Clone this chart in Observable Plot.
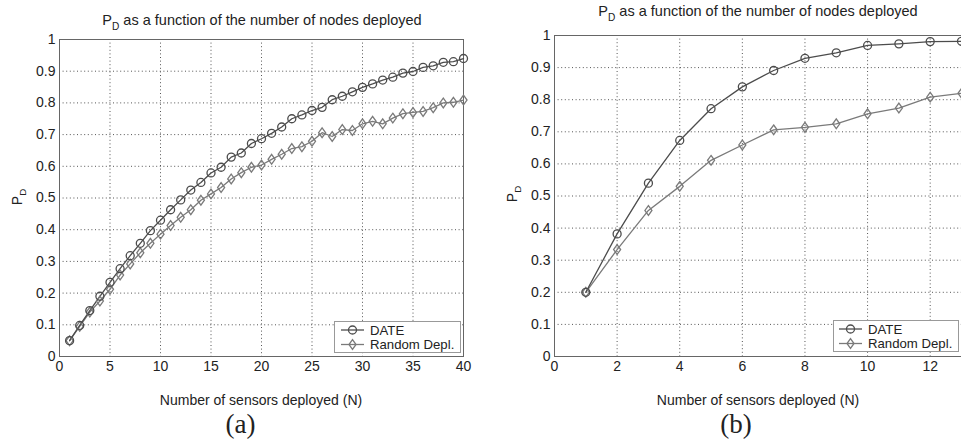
<!DOCTYPE html>
<html><head><meta charset="utf-8">
<script src="https://cdn.jsdelivr.net/npm/d3@7"></script>
<script src="https://cdn.jsdelivr.net/npm/@observablehq/plot@0.6"></script>
<style>
body{margin:0;background:#fff;overflow:hidden;}
#fig{position:relative;width:961px;height:443px;font-family:"Liberation Sans",Arial,sans-serif;color:#222;overflow:hidden;}
.abs{position:absolute;white-space:nowrap;line-height:1;}
.sub{font-size:0.7em;position:relative;top:0.45em;}
.cap{font-family:"Liberation Serif","Times New Roman",serif;font-size:27px;}
.leg{position:absolute;border:1px solid #999;background:#fff;box-sizing:border-box;}
</style></head><body><div id="fig"></div>
<script>
// ---- data ----
const nA = [1,2,3,4,5,6,7,8,9,10,11,12,13,14,15,16,17,18,19,20,21,22,23,24,25,26,27,28,29,30,31,32,33,34,35,36,37,38,39,40];
const dateA = [0.05,0.098,0.145,0.19,0.234,0.277,0.318,0.357,0.397,0.43,0.463,0.494,0.525,0.549,0.579,0.597,0.629,0.642,0.672,0.687,0.704,0.724,0.75,0.762,0.776,0.786,0.81,0.821,0.835,0.849,0.86,0.872,0.881,0.894,0.899,0.912,0.917,0.928,0.93,0.94];
const randA = [0.05,0.095,0.14,0.175,0.212,0.257,0.292,0.327,0.357,0.386,0.413,0.439,0.463,0.493,0.513,0.533,0.56,0.58,0.597,0.604,0.622,0.638,0.656,0.662,0.679,0.706,0.694,0.716,0.713,0.734,0.742,0.734,0.752,0.766,0.77,0.773,0.785,0.8,0.802,0.809];
const nB = [1,2,3,4,5,6,7,8,9,10,11,12,13];
const dateB = [0.2,0.382,0.54,0.673,0.772,0.84,0.891,0.929,0.946,0.969,0.974,0.981,0.982];
const randB = [0.2,0.333,0.455,0.53,0.611,0.659,0.706,0.714,0.725,0.756,0.774,0.808,0.82];
const xTicksA = [0,5,10,15,20,25,30,35,40];
const xTicksB = [0,2,4,6,8,10,12];
const yTicks = [0,0.1,0.2,0.3,0.4,0.5,0.6,0.7,0.8,0.9,1];
const seriesNames = ["DATE","Random Depl."];
const titleText = "as a function of the number of nodes deployed";
const xLabel = "Number of sensors deployed (N)";

const colDate = "#4c4c4c", colRand = "#7a7a7a";
const matDiamond = {draw(ctx, size){const h=Math.sqrt(size/(2*0.72)), w=h*0.72; ctx.moveTo(0,-h); ctx.lineTo(w,0); ctx.lineTo(0,h); ctx.lineTo(-w,0); ctx.closePath();}};
const fig = document.getElementById("fig");

function addDiv(html, cls, style){
  const d = document.createElement("div");
  d.className = "abs " + (cls||"");
  d.innerHTML = html;
  Object.assign(d.style, style);
  fig.appendChild(d);
  return d;
}

function panel(o){
  const D = o.n.map((v,i)=>({n:v, p:o.date[i]}));
  const R = o.n.map((v,i)=>({n:v, p:o.rand[i]}));
  const svg = Plot.plot({
    width:o.width, height:o.height,
    marginLeft:o.mL, marginRight:o.mR, marginTop:o.mT, marginBottom:o.mB,
    style:{fontSize:"14px", fontFamily:'"Liberation Sans",Arial,sans-serif', color:"#222", background:"transparent"},
    x:{domain:o.xDomain, ticks:o.xTicks, tickSize:0, tickPadding:5, label:null},
    y:{domain:[0,1], ticks:yTicks, tickSize:0, tickPadding:4, label:null, tickFormat:d=>String(+d.toFixed(1))},
    marks:[
      Plot.ruleX(o.xTicks, {stroke:"#555", strokeDasharray:"1,2.6", strokeWidth:1}),
      Plot.ruleY(yTicks, {stroke:"#555", strokeDasharray:"1,2.6", strokeWidth:1}),
      Plot.frame({stroke:"#666", strokeWidth:1}),
      Plot.line(R, {x:"n", y:"p", stroke:colRand, strokeWidth:1.3}),
      Plot.line(D, {x:"n", y:"p", stroke:colDate, strokeWidth:1.3}),
      Plot.dot(R, {x:"n", y:"p", symbol:matDiamond, r:3.3, stroke:colRand, strokeWidth:1.3, fill:"none"}),
      Plot.dot(D, {x:"n", y:"p", r:4, stroke:colDate, strokeWidth:1.3, fill:"none"})
    ]
  });
  const wrap = document.createElement("div");
  Object.assign(wrap.style, {position:"absolute", left:o.left+"px", top:o.top+"px", width:o.width+"px", height:o.height+"px"});
  wrap.appendChild(svg);
  fig.appendChild(wrap);

  // title
  addDiv('P<span class="sub">D</span> ' + titleText, "", {left:o.titleX+"px", top:o.titleTop+"px", fontSize:"14.5px", transform:"translateX(-50%)"});
  // x label
  addDiv(xLabel, "", {left:o.xlabX+"px", top:"393px", fontSize:"14px", transform:"translateX(-50%)"});
  // caption
  addDiv(o.caption, "cap", {left:o.capX+"px", top:"411px", transform:"translateX(-50%)"});
  // y label
  addDiv('P<span class="sub">D</span>', "", {left:"0px", top:"0px", fontSize:"14px", transformOrigin:"0 0",
    transform:`translate(${o.ylabX}px, ${o.ylabY}px) rotate(-90deg) translate(-50%, -11.9px)`});
  // legend
  const lg = document.createElement("div");
  lg.className = "leg";
  Object.assign(lg.style, {left:o.leg.left+"px", top:o.leg.top+"px", width:o.leg.w+"px", height:o.leg.h+"px"});
  const ls = d3.create("svg").attr("width", o.leg.w).attr("height", o.leg.h).style("position","absolute").style("left","-1px").style("top","-1px").style("overflow","visible");
  const rows = [{y:o.leg.y1, c:colDate, sym:d3.symbolCircle, r:4}, {y:o.leg.y2, c:colRand, sym:matDiamond, r:3.3}];
  rows.forEach((row,i)=>{
    ls.append("line").attr("x1",o.leg.x0).attr("x2",o.leg.x1).attr("y1",row.y).attr("y2",row.y).attr("stroke",row.c).attr("stroke-width",1.3);
    ls.append("path").attr("d", d3.symbol(row.sym, Math.PI*row.r*row.r)()).attr("transform",`translate(${(o.leg.x0+o.leg.x1)/2},${row.y})`).attr("fill","none").attr("stroke",row.c).attr("stroke-width",1.3);
    ls.append("text").attr("x",o.leg.tx).attr("y",row.y).attr("dy","0.36em").attr("font-size",13.2).attr("fill","#222").attr("font-family",'"Liberation Sans",Arial,sans-serif').text(seriesNames[i]);
  });
  lg.appendChild(ls.node());
  fig.appendChild(lg);
}

panel({left:0, top:27, width:480, height:389, mL:59, mR:17, mT:12, mB:60,
  xDomain:[0,40], xTicks:xTicksA, n:nA, date:dateA, rand:randA,
  titleX:262, titleTop:13, xlabX:261, capX:240.5, caption:"(a)", ylabX:21.7, ylabY:197,
  leg:{left:334, top:321, w:127, h:32, y1:9, y2:23.5, x0:7, x1:30, tx:36}});

panel({left:480, top:23, width:481, height:393, mL:74, mR:0, mT:12, mB:60,
  xDomain:[0,13], xTicks:xTicksB, n:nB, date:dateB, rand:randB,
  titleX:758, titleTop:4, xlabX:758, capX:736, caption:"(b)", ylabX:517, ylabY:194,
  leg:{left:833, top:320, w:126, h:32, y1:9, y2:23.5, x0:6, x1:29, tx:35}});
</script></body></html>
